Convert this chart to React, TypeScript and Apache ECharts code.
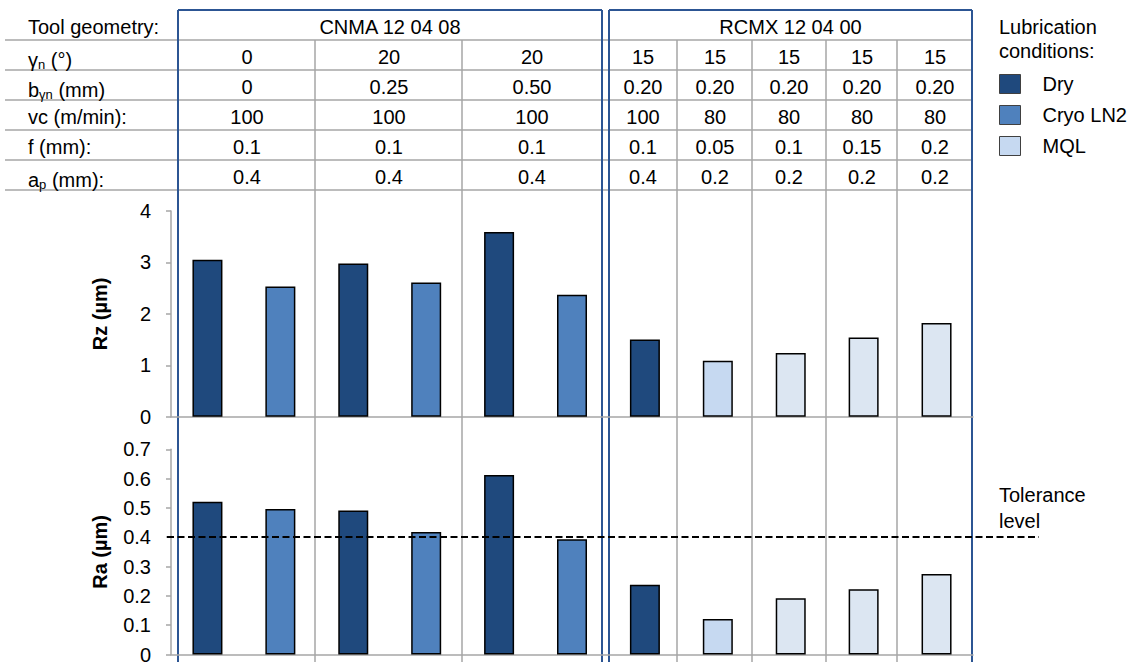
import React, { useEffect, useRef } from 'react';
import * as echarts from 'echarts';

// ---------- data ----------
const categories = [
  'CNMA γ0 Dry', 'CNMA γ0 Cryo LN2',
  'CNMA γ20 b0.25 Dry', 'CNMA γ20 b0.25 Cryo LN2',
  'CNMA γ20 b0.50 Dry', 'CNMA γ20 b0.50 Cryo LN2',
  'RCMX f0.1 Dry', 'RCMX f0.05 MQL', 'RCMX f0.1 MQL', 'RCMX f0.15 MQL', 'RCMX f0.2 MQL',
];
const conditions = ['Dry', 'Cryo LN2', 'MQL'];

const rzDry = [3.05, null, 2.98, null, 3.59, null, 1.5, null, null, null, null];
const rzCryo = [null, 2.53, null, 2.61, null, 2.37, null, null, null, null, null];
const rzMql = [null, null, null, null, null, null, null, 1.09, 1.24, 1.54, 1.82];

const raDry = [0.521, null, 0.491, null, 0.612, null, 0.238, null, null, null, null];
const raCryo = [null, 0.496, null, 0.418, null, 0.393, null, null, null, null, null];
const raMql = [null, null, null, null, null, null, null, 0.121, 0.192, 0.223, 0.275];

const raTolerance = 0.4;

const rzAxisRange = { min: 0, max: 4, step: 1 };
const raAxisRange = { min: 0, max: 0.7, step: 0.1 };

const toolGeometries = ['CNMA 12 04 08', 'RCMX 12 04 00'];
const rowLabels = [
  'Tool geometry:',
  '{m|γ}{s|n}{m| (°)}',
  '{m|b}{s|γn}{m| (mm)}',
  'vc (m/min):',
  'f (mm):',
  '{m|a}{s|p}{m| (mm):}',
];
const rakeAngle = ['0', '20', '20', '15', '15', '15', '15', '15'];
const chamferWidth = ['0', '0.25', '0.50', '0.20', '0.20', '0.20', '0.20', '0.20'];
const cuttingSpeed = ['100', '100', '100', '100', '80', '80', '80', '80'];
const feed = ['0.1', '0.1', '0.1', '0.1', '0.05', '0.1', '0.15', '0.2'];
const depthOfCut = ['0.4', '0.4', '0.4', '0.4', '0.2', '0.2', '0.2', '0.2'];

// ---------- styles / layout ----------
const FONT = '"Liberation Sans", Arial, Helvetica, sans-serif';
const COLORS: Record<string, string> = { Dry: '#1F497D', 'Cryo LN2': '#4F81BD', MQL: '#C6D9F1' };
const MQL_PALE = '#DCE6F2';
const mqlFill = [null, null, null, null, null, null, null, null, MQL_PALE, MQL_PALE, MQL_PALE];
const GRAY = '#A6A6A6';
const BLUE = '#2C5593';

const GRID_LEFT = 171;
const GRID_WIDTH = 802;
const TOP_GRID = { top: 211, height: 205.7 };
const BOT_GRID = { top: 449.3, height: 205.2 };

const ROW_Y = [27, 57, 87, 117, 147, 177];
const ROW_LINES = [40, 70, 100, 130, 160, 190];
const COL_X = [247, 389, 532, 643, 715, 789, 862, 935];
const SEP_X = [315, 462, 677, 752, 826, 897];
const BOXES = [
  { x1: 178, x2: 602 },
  { x1: 609, x2: 972 },
];
const BOX_TOP = 10;
const PAGE_H = 662;

function text(x: number, y: number, t: string, align = 'center', extra: any = {}) {
  return {
    type: 'text',
    x,
    y,
    silent: true,
    z: 20,
    style: {
      text: t,
      fill: '#000',
      fontSize: 20,
      fontFamily: FONT,
      align,
      verticalAlign: 'middle',
      ...extra,
    },
  };
}

function line(x1: number, y1: number, x2: number, y2: number, stroke: string, lineWidth: number) {
  return {
    type: 'line',
    silent: true,
    z: 0,
    shape: { x1, y1, x2, y2 },
    style: { stroke, lineWidth },
  };
}

function buildGraphic() {
  const els: any[] = [];
  ROW_LINES.forEach((y) => els.push(line(5, y, 972, y, GRAY, 1.5)));
  SEP_X.forEach((x) => els.push(line(x, ROW_LINES[0], x, PAGE_H, GRAY, 1.5)));
  BOXES.forEach((b) => {
    els.push(line(b.x1, BOX_TOP, b.x2, BOX_TOP, BLUE, 2));
    els.push(line(b.x1, BOX_TOP, b.x1, PAGE_H, BLUE, 2));
    els.push(line(b.x2, BOX_TOP, b.x2, PAGE_H, BLUE, 2));
  });
  const rich = {
    m: { fontSize: 20, lineHeight: 24, fontFamily: FONT, fill: '#000', verticalAlign: 'bottom' },
    s: { fontSize: 13, lineHeight: 13, fontFamily: FONT, fill: '#000', verticalAlign: 'top', padding: [12, 0, 0, 0] },
  };
  rowLabels.forEach((lbl, i) => {
    els.push(text(28, ROW_Y[i] + (lbl.includes('{') ? 1 : 0), lbl, 'left', lbl.includes('{') ? { rich } : {}));
  });
  BOXES.forEach((b, i) => els.push(text((b.x1 + b.x2) / 2, ROW_Y[0], toolGeometries[i])));
  [rakeAngle, chamferWidth, cuttingSpeed, feed, depthOfCut].forEach((row, r) => {
    row.forEach((v, c) => els.push(text(COL_X[c], ROW_Y[r + 1], v)));
  });
  els.push(text(999, 27, 'Lubrication', 'left'));
  els.push(text(999, 51, 'conditions:', 'left'));
  els.push(text(999, 495, 'Tolerance', 'left'));
  els.push(text(999, 521, 'level', 'left'));
  return els;
}

function seriesData(values: (number | null)[], fills?: (string | null)[]) {
  return values.map((v, i) =>
    v == null ? null : fills && fills[i] ? { value: v, itemStyle: { color: fills[i] } } : v
  );
}

function bar(name: string, values: (number | null)[], idx: number, fills?: (string | null)[], extra: any = {}) {
  return {
    type: 'bar',
    name,
    xAxisIndex: idx,
    yAxisIndex: idx,
    barWidth: 30,
    barGap: '-100%',
    data: seriesData(values, fills),
    itemStyle: { color: COLORS[name], borderColor: '#000', borderWidth: 1.5 },
    emphasis: { disabled: true },
    ...extra,
  };
}

function yAxis(idx: number, range: { min: number; max: number; step: number }, name: string, fmt: (v: number) => string) {
  return {
    type: 'value',
    gridIndex: idx,
    min: range.min,
    max: range.max,
    interval: range.step,
    name,
    nameLocation: 'middle',
    nameGap: 61,
    nameTextStyle: { fontSize: 20, fontWeight: 'bold', color: '#000', fontFamily: FONT },
    axisLine: { show: true, lineStyle: { color: GRAY, width: 1.5 } },
    axisTick: { show: true, length: 5, lineStyle: { color: GRAY, width: 1.5 } },
    axisLabel: { color: '#000', fontSize: 20, fontFamily: FONT, margin: 20, formatter: fmt, hideOverlap: false },
    splitLine: { show: false },
  };
}

function xAxis(idx: number) {
  return {
    type: 'category',
    gridIndex: idx,
    data: categories,
    axisLabel: { show: false },
    axisTick: { show: false },
    axisLine: { show: true, lineStyle: { color: GRAY, width: 1.5 } },
    splitLine: { show: false },
  };
}

const option: any = {
  animation: false,
  backgroundColor: '#fff',
  textStyle: { fontFamily: FONT },
  grid: [
    { left: GRID_LEFT, width: GRID_WIDTH, top: TOP_GRID.top, height: TOP_GRID.height, containLabel: false, outerBoundsMode: 'none' },
    { left: GRID_LEFT, width: GRID_WIDTH, top: BOT_GRID.top, height: BOT_GRID.height, containLabel: false, outerBoundsMode: 'none' },
  ],
  xAxis: [xAxis(0), xAxis(1)],
  yAxis: [
    yAxis(0, rzAxisRange, 'Rz (µm)', (v: number) => String(Math.round(v))),
    yAxis(1, raAxisRange, 'Ra (µm)', (v: number) => (Math.abs(v) < 1e-9 ? '0' : v.toFixed(1))),
  ],
  legend: {
    show: true,
    data: conditions,
    orient: 'vertical',
    left: 999,
    top: 74,
    padding: 0,
    itemWidth: 21,
    itemHeight: 19,
    itemGap: 11,
    icon: 'rect',
    selectedMode: false,
    itemStyle: { borderColor: '#404040', borderWidth: 1 },
    textStyle: { fontSize: 20, color: '#000', fontFamily: FONT, lineHeight: 19, padding: [0, 0, 0, 17] },
  },
  series: [
    bar('Dry', rzDry, 0),
    bar('Cryo LN2', rzCryo, 0),
    bar('MQL', rzMql, 0, mqlFill),
    bar('Dry', raDry, 1, undefined, {
      markLine: {
        silent: true,
        symbol: 'none',
        label: { show: false },
        lineStyle: { color: '#000', type: [7, 3.5], width: 2 },
        emphasis: { disabled: true },
        data: [[
          { xAxis: 0, yAxis: raTolerance, x: 167 },
          { xAxis: categories.length - 1, yAxis: raTolerance, x: 1039 },
        ]],
      },
    }),
    bar('Cryo LN2', raCryo, 1),
    bar('MQL', raMql, 1, mqlFill),
  ],
  graphic: { elements: buildGraphic() },
};

export default function App() {
  const ref = useRef<HTMLDivElement>(null);
  useEffect(() => {
    const chart = echarts.init(ref.current!, null, { renderer: 'svg' });
    chart.setOption(option);
    return () => chart.dispose();
  }, []);
  return (
    <div
      ref={ref}
      style={{ position: 'absolute', left: 0, top: 0, width: 1132, height: 662, background: '#fff' }}
    />
  );
}
